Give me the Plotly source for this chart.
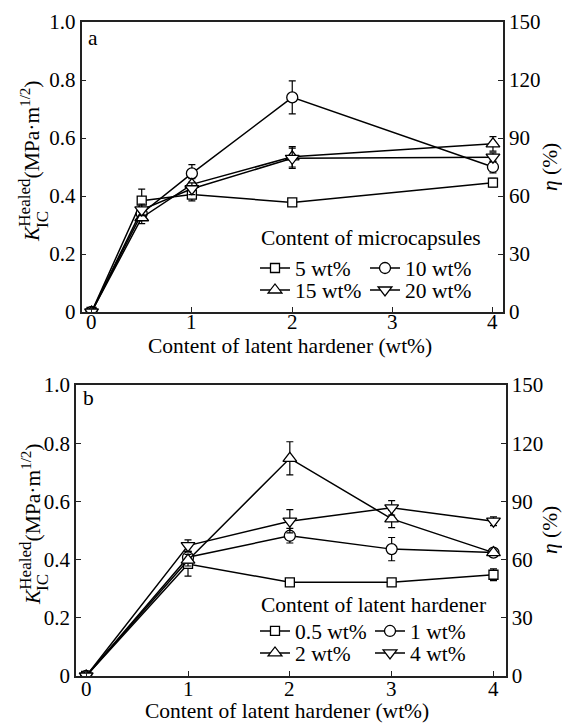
import plotly.graph_objects as go

# ---------------- data ----------------
# Panel a: x = content of latent hardener (wt%), series = content of microcapsules
xa = [0, 0.5, 1, 2, 4]
a_names = ["5 wt%", "10 wt%", "15 wt%", "20 wt%"]
a_5 = [0, 0.384, 0.405, 0.378, 0.446]
a_5_err = [0, 0.040, 0.022, 0.008, 0.015]
a_10 = [0, 0.340, 0.478, 0.740, 0.500]
a_10_err = [0, 0.020, 0.030, 0.057, 0.020]
a_15 = [0, 0.325, 0.440, 0.535, 0.580]
a_15_err = [0, 0.020, 0.020, 0.035, 0.025]
a_20 = [0, 0.352, 0.425, 0.530, 0.534]
a_20_err = [0, 0.020, 0.020, 0.035, 0.015]

# Panel b: x = content of latent hardener (wt%), series = content of latent hardener
xb = [0, 1, 2, 3, 4]
b_names = ["0.5 wt%", "1 wt%", "2 wt%", "4 wt%"]
b_05 = [0, 0.385, 0.322, 0.322, 0.348]
b_05_err = [0, 0.042, 0.008, 0.012, 0.020]
b_1 = [0, 0.408, 0.482, 0.436, 0.424]
b_1_err = [0, 0.020, 0.025, 0.040, 0.010]
b_2 = [0, 0.398, 0.748, 0.540, 0.424]
b_2_err = [0, 0.020, 0.057, 0.030, 0.008]
b_4 = [0, 0.448, 0.532, 0.578, 0.532]
b_4_err = [0, 0.020, 0.040, 0.025, 0.015]

legend_title_a = "Content of microcapsules"
legend_title_b = "Content of latent hardener"
x_title = "Content of latent hardener (wt%)"

x_ticks = [0, 1, 2, 3, 4]
x_ticktext = ["0", "1", "2", "3", "4"]
k_ticks = [0, 0.2, 0.4, 0.6, 0.8, 1.0]
k_ticktext = ["0", "0.2", "0.4", "0.6", "0.8", "1.0"]
eta_ticks = [0, 30, 60, 90, 120, 150]
eta_ticktext = ["0", "30", "60", "90", "120", "150"]

symbols = ["square", "circle", "triangle-up", "triangle-down"]
sizes = [9, 11, 12, 12]

FONT = "Liberation Serif"
W, H = 562, 727
FS = 21.5

fig = go.Figure()

def add_series(x, ys, errs, names, xaxis, yaxis, legend_ids):
    for i, (y, e, n) in enumerate(zip(ys, errs, names)):
        fig.add_trace(go.Scatter(
            x=x, y=y, name=n, mode="lines+markers",
            xaxis=xaxis, yaxis=yaxis, legend=legend_ids[i], showlegend=True,
            line=dict(color="black", width=1.5),
            marker=dict(symbol=symbols[i], size=sizes[i],
                        color="white", line=dict(color="black", width=1.3)),
            error_y=dict(type="data", array=e, visible=True, color="black",
                         thickness=1.2, width=3.5),
        ))

add_series(xa, [a_5, a_10, a_15, a_20], [a_5_err, a_10_err, a_15_err, a_20_err],
           a_names, "x", "y", ["legend", "legend2", "legend3", "legend4"])
add_series(xb, [b_05, b_1, b_2, b_4], [b_05_err, b_1_err, b_2_err, b_4_err],
           b_names, "x2", "y3", ["legend5", "legend6", "legend7", "legend8"])

# empty placeholders so the right-hand eta axes are drawn
for xa_id, ya_id in (("x", "y2"), ("x2", "y4")):
    fig.add_trace(go.Scatter(x=[], y=[], xaxis=xa_id, yaxis=ya_id,
                             showlegend=False, hoverinfo="skip"))

tickfont = dict(family=FONT, size=21, color="black")
common_ax = dict(showline=True, linecolor="#222", linewidth=1.5, ticks="inside",
                 ticklen=5, tickwidth=1.2, tickcolor="#222", showgrid=False,
                 zeroline=False, tickfont=tickfont)

top_dom = [1 - 312 / H, 1 - 22 / H]
bot_dom = [1 - 676 / H, 1 - 385 / H]

fig.update_layout(
    width=W, height=H, margin=dict(l=0, r=0, t=0, b=0, autoexpand=False),
    paper_bgcolor="white", plot_bgcolor="white", showlegend=True,
    font=dict(family=FONT, size=FS, color="black"),
    xaxis=dict(domain=[81.5 / W, 503 / W], range=[-0.1, 4.1], anchor="y",
               tickvals=x_ticks, ticktext=x_ticktext, mirror=True,
               showticklabels=False, **common_ax),
    yaxis=dict(domain=top_dom, range=[0, 1], anchor="x",
               tickvals=k_ticks, ticktext=k_ticktext, **common_ax),
    yaxis2=dict(overlaying="y", side="right", anchor="x", range=[0, 150],
                tickvals=eta_ticks, ticktext=eta_ticktext, **common_ax),
    xaxis2=dict(domain=[76 / W, 505.7 / W], range=[-0.1, 4.12], anchor="y3",
                tickvals=x_ticks, ticktext=x_ticktext, mirror=True,
                showticklabels=False, **common_ax),
    yaxis3=dict(domain=bot_dom, range=[0, 1], anchor="x2",
                tickvals=k_ticks, ticktext=k_ticktext, **common_ax),
    yaxis4=dict(overlaying="y3", side="right", anchor="x2", range=[0, 150],
                tickvals=eta_ticks, ticktext=eta_ticktext, **common_ax),
)

# one legend per entry, placed in a 2x2 grid under each legend title
leg_pos = {
    "legend": (255, 268), "legend2": (365, 268),
    "legend3": (255, 290), "legend4": (365, 290),
    "legend5": (255, 631), "legend6": (370, 631),
    "legend7": (255, 653), "legend8": (370, 653),
}
for key, (px, py) in leg_pos.items():
    fig.update_layout({key: dict(x=px / W, y=1 - py / H, xanchor="left", yanchor="middle",
                                 bgcolor="rgba(0,0,0,0)", borderwidth=0, visible=True,
                                 font=dict(family=FONT, size=FS))})

def pa(text, px, py, size=FS, angle=0):
    return dict(text=text, textangle=angle, x=px / W, y=1 - py / H,
                xref="paper", yref="paper", xanchor="center", yanchor="middle",
                showarrow=False, font=dict(family=FONT, size=size, color="black"))

ytitle = ("<i>K</i><sup><span style='font-size:17px'>Healed</span></sup>"
          "(MPa·m<sup><span style='font-size:15px'>1/2</span></sup>)")
ann = []
for dy in (0, 363):
    ann.append(pa(ytitle, 30, 161 + dy, angle=-90))
    ann.append(pa("IC", 42, 220 + dy, size=17, angle=-90))
    ann.append(pa("<i>η</i> (%)", 550, 167 + dy, angle=-90))
# x tick labels, placed on the data x positions of each panel
for xref, py in (("x", 322), ("x2", 689)):
    for tv, tt in zip(x_ticks, x_ticktext):
        ann.append(dict(text=tt, x=tv, xref=xref, y=1 - py / H, yref="paper",
                        xanchor="center", yanchor="middle", showarrow=False,
                        font=dict(family=FONT, size=21, color="black")))
ann.append(pa(x_title, 290, 346))
ann.append(pa(x_title, 287, 711))
ann.append(dict(pa(legend_title_a, 259, 238), xanchor="left"))
ann.append(dict(pa(legend_title_b, 259, 605), xanchor="left"))
ann.append(pa("a", 93, 38))
ann.append(pa("b", 88, 398))
fig.update_layout(annotations=ann)

fig.write_html("out.html")
